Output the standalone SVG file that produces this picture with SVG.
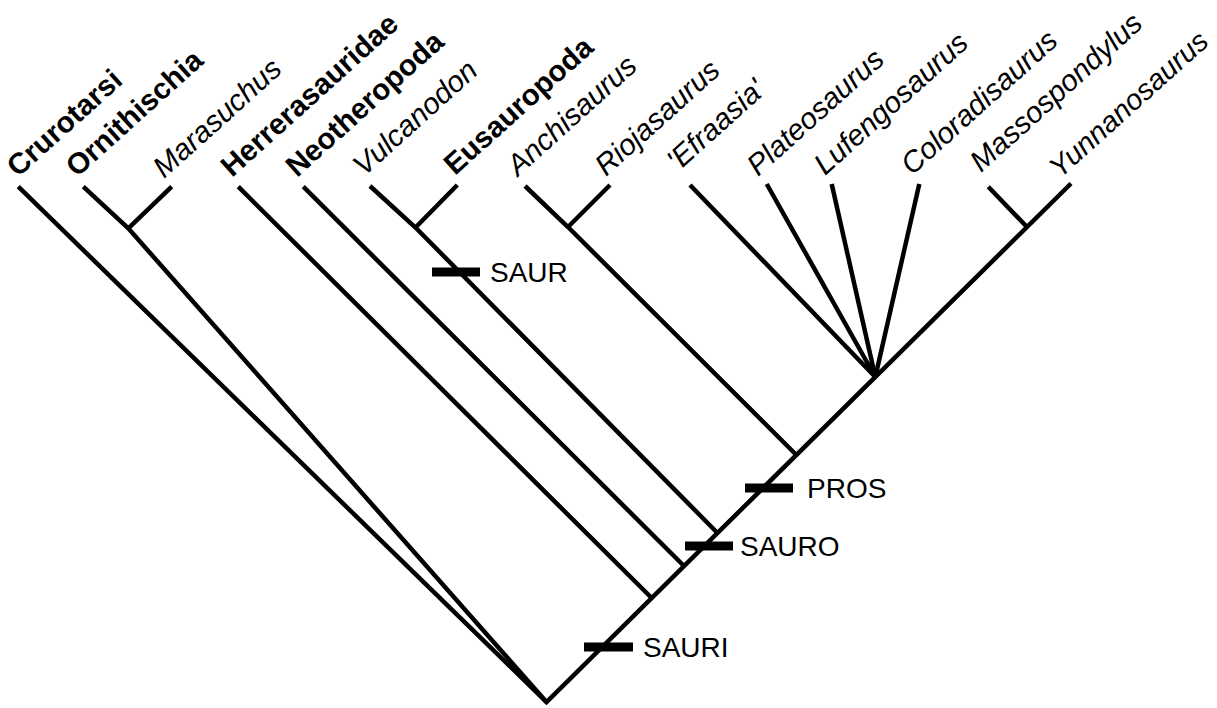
<svg xmlns="http://www.w3.org/2000/svg" width="1217" height="708" viewBox="0 0 1217 708">
<style>
.ln{fill:none;stroke:#000;stroke-width:4.5;stroke-linecap:butt;stroke-linejoin:miter}
.bar{stroke:#000;stroke-width:9}
.lb{font-family:"Liberation Sans",Arial,sans-serif;font-size:29.5px;fill:#000}
.b{font-weight:bold}
.i{font-style:italic}
.mk{font-family:"Liberation Sans",Arial,sans-serif;font-size:28px;fill:#000}
</style>
<rect width="1217" height="708" fill="#fff"/>
<g id="connectors">
<path class="ln" d="M18.3,186.7 L546.5,702 L1071,183.5"/>
<path class="ln" d="M83.3,186.7 L128.3,228.3 L546.5,702"/>
<path class="ln" d="M171.7,186.7 L128.3,228.3"/>
<path class="ln" d="M238.3,186.7 L651.7,598"/>
<path class="ln" d="M303.3,186.7 L684,566"/>
<path class="ln" d="M370,186 L415.5,227.5 L717.5,533"/>
<path class="ln" d="M457.3,185 L415.5,227.5"/>
<path class="ln" d="M525,186 L568,227 L796.4,455"/>
<path class="ln" d="M610,185 L568,227"/>
<path class="ln" d="M690,185 L875.3,377"/>
<path class="ln" d="M766.7,184 L875.3,377"/>
<path class="ln" d="M831.7,184 L875.3,377"/>
<path class="ln" d="M919.3,184 L875.3,377"/>
<path class="ln" d="M988.3,186.7 L1027,227"/>
</g>
<g id="markers">
<g id="m-saur"><line class="bar" x1="432" y1="272" x2="480" y2="272"/><text class="mk" x="490" y="282">SAUR</text></g>
<g id="m-sauri"><line class="bar" x1="584" y1="647" x2="633" y2="647"/><text class="mk" x="643" y="657">SAURI</text></g>
<g id="m-sauro"><line class="bar" x1="685" y1="546" x2="733" y2="546"/><text class="mk" x="740" y="556">SAURO</text></g>
<g id="m-pros"><line class="bar" x1="745" y1="488" x2="793" y2="488"/><text class="mk" x="807" y="498">PROS</text></g>
</g>
<g id="taxa">
<g id="n-crurotarsi"><text class="lb b" transform="translate(18,178) rotate(-42)">Crurotarsi</text></g>
<g id="n-ornithischia"><text class="lb b" transform="translate(77,178) rotate(-42)">Ornithischia</text></g>
<g id="n-marasuchus"><text class="lb i" transform="translate(164,179) rotate(-42)">Marasuchus</text></g>
<g id="n-herrerasauridae"><text class="lb b" transform="translate(232,178) rotate(-42)">Herrerasauridae</text></g>
<g id="n-neotheropoda"><text class="lb b" transform="translate(297,178) rotate(-42)">Neotheropoda</text></g>
<g id="n-vulcanodon"><text class="lb i" transform="translate(364,177) rotate(-42)">Vulcanodon</text></g>
<g id="n-eusauropoda"><text class="lb b" transform="translate(455,176) rotate(-42)">Eusauropoda</text></g>
<g id="n-anchisaurus"><text class="lb i" transform="translate(518,177) rotate(-42)">Anchisaurus</text></g>
<g id="n-riojasaurus"><text class="lb i" transform="translate(606,177) rotate(-42)">Riojasaurus</text></g>
<g id="n-efraasia"><text class="lb i" transform="translate(678,172) rotate(-42)">'Efraasia'</text></g>
<g id="n-plateosaurus"><text class="lb i" transform="translate(758,177) rotate(-42)">Plateosaurus</text></g>
<g id="n-lufengosaurus"><text class="lb i" transform="translate(825,176) rotate(-42)">Lufengosaurus</text></g>
<g id="n-coloradisaurus"><text class="lb i" transform="translate(912,176) rotate(-42)">Coloradisaurus</text></g>
<g id="n-massospondylus"><text class="lb i" transform="translate(981,173) rotate(-42)">Massospondylus</text></g>
<g id="n-yunnanosaurus"><text class="lb i" style="font-size:29px" transform="translate(1060,179) rotate(-42)">Yunnanosaurus</text></g>
</g>
</svg>
